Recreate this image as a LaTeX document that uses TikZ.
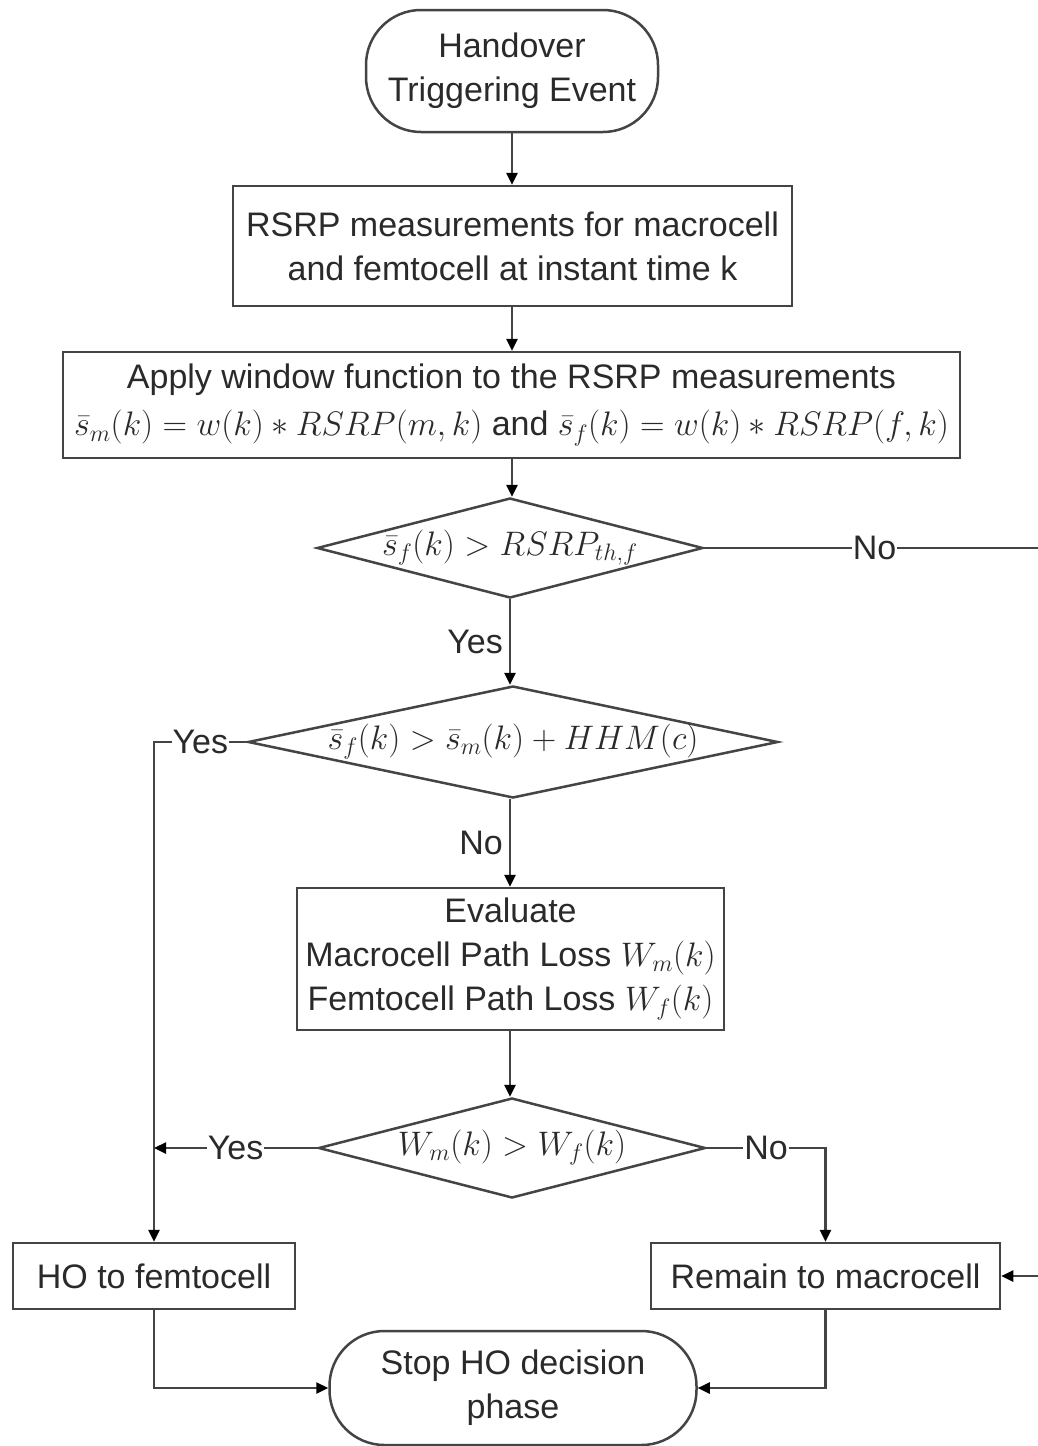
\RequirePackage{fix-cm}
\documentclass[tikz,border=0pt]{standalone}
\usepackage{fontspec}
\setmainfont{Liberation Sans}
\usetikzlibrary{shapes.geometric,arrows.meta,calc}
\definecolor{ln}{HTML}{444444}
\definecolor{tx}{HTML}{2A2A2A}
\begin{document}
\begin{tikzpicture}[x=1pt,y=-1pt,
  txt/.style={text=tx, font=\fontsize{34}{44}\selectfont},
  box/.style={txt, draw=ln, line width=2.5pt, fill=white, align=center, inner sep=0pt},
  term/.style={box, rounded corners=55pt},
  dia/.style={diamond, draw=ln, line width=2.5pt, fill=white, inner sep=0pt},
  lab/.style={txt, fill=white, inner sep=1pt},
  conn/.style={draw=ln, line width=2.5pt},
  arr/.style={conn, -{Triangle[length=12pt,width=11pt,color=black]}}]
\useasboundingbox (0,0) rectangle (1037,1446);
\fill[white] (0,0) rectangle (1037,1446);

\node[term, minimum width=292, minimum height=122] (start) at (512,71) {Handover\\Triggering Event};
\node[box, minimum width=559, minimum height=120] (b1) at (512.5,246) {RSRP measurements for macrocell\\and femtocell at instant time k};
\node[box, minimum width=897, minimum height=106] (b2) at (511.5,405) {Apply window function to the RSRP measurements\\[3pt]$\bar{s}_m(k)=w(k)\ast RSRP(m,k)$ and $\bar{s}_f(k)=w(k)\ast RSRP(f,k)$};
\node[dia, minimum width=386, minimum height=100] (d1) at (510,548) {};
\node[txt] (d1t) at (d1) {$\bar{s}_f(k) > RSRP_{th,f}$};
\node[dia, minimum width=530, minimum height=112] (d2) at (513,742) {};
\node[txt] (d2t) at (d2) {$\bar{s}_f(k) > \bar{s}_m(k) + HHM(c)$};
\node[box, minimum width=427, minimum height=142] (b3) at (510.5,959) {Evaluate\\Macrocell Path Loss $W_m(k)$\\Femtocell Path Loss $W_f(k)$};
\node[dia, minimum width=387, minimum height=100] (d3) at (512,1148) {};
\node[txt] (d3t) at (d3) {$W_m(k) > W_f(k)$};
\node[box, minimum width=282, minimum height=66] (hof) at (154,1276) {HO to femtocell};
\node[box, minimum width=349, minimum height=66] (rem) at (825.5,1276) {Remain to macrocell};
\node[term, minimum width=367, minimum height=114] (stop) at (513,1388) {Stop HO decision\\phase};

\coordinate (rt) at (1045,548);
\coordinate (j) at (d3.west -| hof.north);

\draw[arr] (start.south) -- (start.south |- b1.north);
\draw[arr] (b1.south -| start.south) -- (start.south |- b2.north);
\draw[arr] (b2.south -| start.south) -- (d1.north -| start.south);
\draw[arr] (d1.east) -- node[lab]{No} (rt) |- (rem.east);
\draw[arr] (d1.south) -- node[lab, left, fill=none, inner sep=6pt]{Yes} (d2.north -| d1.south);
\draw[arr] (d2.west) -- node[lab]{Yes} (d2.west -| hof.north) -- (hof.north);
\draw[arr] (d2.south -| d1.south) -- node[lab, left, fill=none, inner sep=6pt]{No} (b3.north -| d1.south);
\draw[arr] (b3.south -| d1.south) -- (d3.north -| d1.south);
\draw[arr] (d3.west) -- node[lab]{Yes} (j);
\draw[arr] (d3.east) -- node[lab]{No} (d3.east -| rem.north) -- (rem.north);
\draw[arr] (hof.south) |- (stop.west);
\draw[arr] (rem.south) |- (stop.east);
\end{tikzpicture}
\end{document}
